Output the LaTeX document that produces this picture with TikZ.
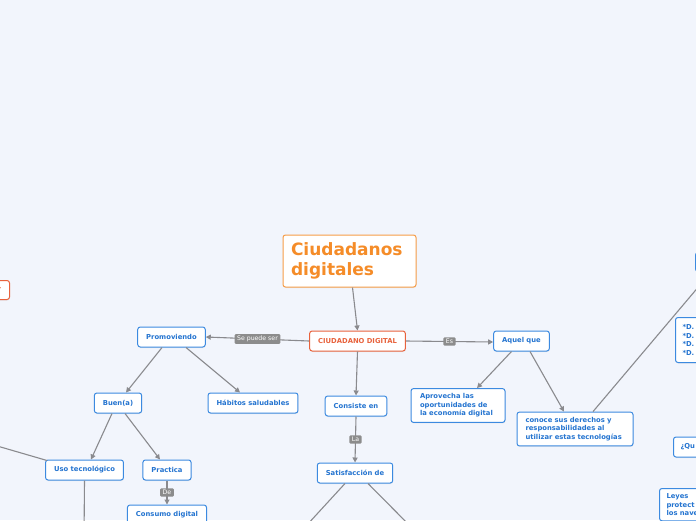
\documentclass[tikz,border=0pt]{standalone}
\usepackage{fontspec}
\setmainfont{DejaVu Sans}
\usepackage{tikz}
\usetikzlibrary{arrows.meta, shadows}
\definecolor{mapbg}{RGB}{242,245,252}
\definecolor{mapblue}{RGB}{60,138,224}
\definecolor{mapbluetxt}{RGB}{36,116,208}
\definecolor{rootred}{RGB}{232,98,60}
\definecolor{titleorange}{RGB}{245,140,40}
\definecolor{linegray}{RGB}{138,138,142}
\definecolor{labelgray}{RGB}{140,140,140}

\begin{document}
\begin{tikzpicture}[x=1pt, y=-1pt,
    arr/.style={-{Triangle[length=5pt, width=5pt]}, line width=1.1pt, linegray},
    plain/.style={line width=1.1pt, linegray},
    topic/.style={rectangle, rounded corners=2.5pt, draw=mapblue, line width=1pt, fill=white,
                  text=mapbluetxt, font=\fontsize{6.8}{8.6}\selectfont\bfseries,
                  minimum height=20pt, inner xsep=8.5pt, inner ysep=5pt,
                  drop shadow={opacity=0.12, shadow xshift=0.4pt, shadow yshift=-1pt}},
    roottopic/.style={topic, draw=rootred, text=rootred},
    lbl/.style={rectangle, rounded corners=1pt, fill=labelgray, text=white,
                font=\fontsize{6.2}{7}\selectfont, inner xsep=2.5pt, inner ysep=1.8pt},
]
\useasboundingbox (0,0) rectangle (696,520);
\fill[mapbg] (0,0) rectangle (696,520);
\clip (0,0) rectangle (696,520);

% central topics
\node[topic, draw=titleorange!85!white, text=titleorange, font=\fontsize{17}{20}\selectfont\bfseries,
      align=left, inner xsep=8pt, minimum width=133pt, minimum height=52pt, text width=117pt] (title) at (349.5,261) {Ciudadanos\\digitales};
\node[roottopic] (main) at (357.5,341) {CIUDADANO DIGITAL};

% left branch
\node[topic] (prom) at (171.5,337) {Promoviendo};
\node[topic] (buena) at (118,403) {Buen(a)};
\node[topic] (habitos) at (253,403) {Hábitos saludables};
\node[topic] (uso) at (84.5,470) {Uso tecnológico};
\node[topic] (practica) at (167,470) {Practica};
\node[topic] (consumo) at (167,515) {Consumo digital};

% middle branch
\node[topic] (consiste) at (356,406) {Consiste en};
\node[topic] (satis) at (355,473) {Satisfacción de};

% right branch
\node[topic] (aquel) at (521.5,341) {Aquel que};
\node[topic, align=left, text width=76pt, minimum width=94pt] (aprov) at (458,405.5) {Aprovecha las\\oportunidades de\\la economía digital};
\node[topic, align=left, text width=99pt, minimum width=116pt] (conoce) at (575,429) {conoce sus derechos y\\responsabilidades al\\utilizar estas tecnologías};

% topics cut by the frame
\node[topic, anchor=west, minimum width=60pt, minimum height=19pt] (derecha) at (695,262) {};
\node[topic, anchor=west, align=left, inner xsep=7pt, text width=40pt, minimum height=45pt] (dlist) at (675,340) {{*}D.\\{*}D.\\{*}D.\\{*}D.};
\node[topic, anchor=west, align=left, inner xsep=7pt, text width=40pt] (que) at (673,447) {¿Qu};
\node[topic, anchor=north west, align=left, inner xsep=7pt, text width=50pt] (leyes) at (659,488) {Leyes\\protect\\los nave};
\node[roottopic, anchor=east, align=right, text width=40pt, minimum height=19pt] (izq) at (10,290) {r};
\coordinate (offleft) at (-20,441);
\coordinate (offuso) at (84,540);
\coordinate (offsatl) at (295,538);
\coordinate (offsatr) at (422,538);

% connectors
\draw[arr] ([xshift=3pt]title.south) -- (main.north);
\draw[arr] (main.west) -- node[lbl] {Se puede ser} (prom.east);
\draw[arr] (main.east) -- node[lbl] {Es} ([yshift=-1pt]aquel.west);
\draw[arr] (main.south) -- (consiste.north);
\draw[arr] (consiste.south) -- node[lbl] {La} (satis.north);
\draw[arr] ([xshift=-9.5pt]prom.south) -- ([xshift=8pt]buena.north);
\draw[arr] ([xshift=14.5pt]prom.south) -- ([xshift=-13pt]habitos.north);
\draw[arr] ([xshift=-6pt]buena.south) -- ([xshift=6.5pt]uso.north);
\draw[arr] ([xshift=7pt]buena.south) -- ([xshift=-7pt]practica.north);
\draw[arr] (practica.south) -- node[lbl] {De} (consumo.north);
\draw[arr] ([xshift=-10pt]aquel.south) -- ([xshift=19pt]aprov.north);
\draw[arr] ([xshift=8.5pt]aquel.south) -- ([xshift=-11pt]conoce.north);
\draw[plain] ([xshift=18pt]conoce.north) -- ([xshift=16pt]derecha.south west);
\draw[plain] (offleft) -- ([xshift=2pt,yshift=-1pt]uso.north west);
\draw[plain] (uso.south) -- (offuso);
\draw[plain] ([xshift=-10pt]satis.south) -- (offsatl);
\draw[plain] ([xshift=13pt]satis.south) -- (offsatr);
\end{tikzpicture}
\end{document}
